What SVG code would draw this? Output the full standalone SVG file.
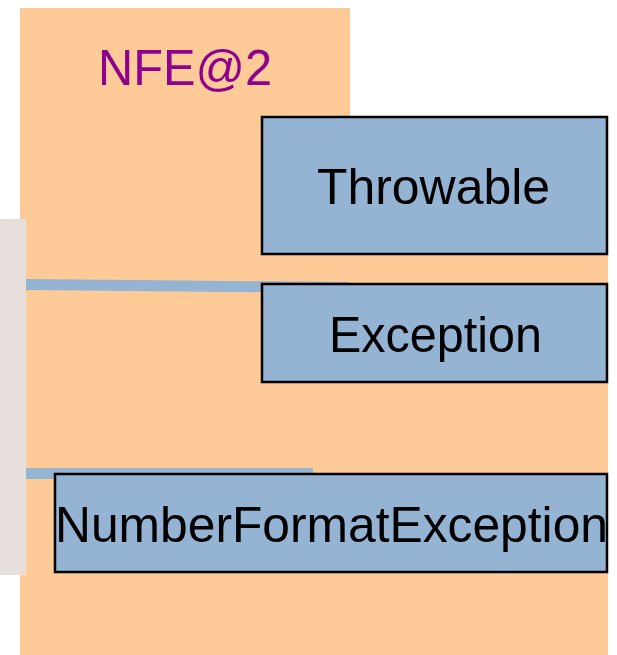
<svg xmlns="http://www.w3.org/2000/svg" width="617" height="655" viewBox="0 0 617 655">
<style>
.box{fill:#95B3D3;stroke:#000;stroke-width:2.5}
.lbl{font-family:"Liberation Sans",Arial,sans-serif;font-size:50px;fill:#000}
.bar{fill:#95B3D3}
</style>
<rect width="617" height="655" fill="#fff"/>
<polygon points="20,8 350,8 350,116 608,116 608,655 20,655" fill="#FDCA98"/>
<rect x="0" y="219" width="26" height="356" fill="#E6DFDC"/>
<text x="98" y="85" font-family="'Liberation Sans',Arial,sans-serif" font-size="50" fill="#8E008E" textLength="174" lengthAdjust="spacingAndGlyphs">NFE@2</text>
<g id="connectors">
<polygon class="bar" points="26,279 349,282 349,293 26,290"/>
<rect class="bar" x="26" y="468" width="287" height="11"/>
</g>
<g id="throwable">
<rect class="box" x="262" y="117" width="345" height="137"/>
<text class="lbl" x="317" y="203.5" textLength="233" lengthAdjust="spacingAndGlyphs">Throwable</text>
</g>
<g id="exception">
<rect class="box" x="262" y="284" width="345" height="98"/>
<text class="lbl" x="329" y="351.5" textLength="213" lengthAdjust="spacingAndGlyphs">Exception</text>
</g>
<g id="nfe">
<rect class="box" x="55" y="474" width="552" height="98"/>
<text class="lbl" x="55" y="541.5" textLength="553" lengthAdjust="spacingAndGlyphs">NumberFormatException</text>
</g>
</svg>
